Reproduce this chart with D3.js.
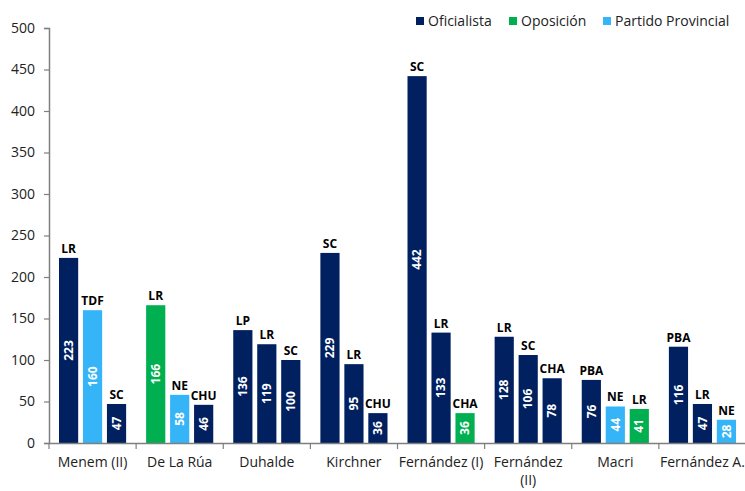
<!DOCTYPE html>
<html>
<head>
<meta charset="utf-8">
<script src="https://cdn.jsdelivr.net/npm/d3@7"></script>
<style>
  body { margin: 0; background: #fff; }
  svg { font-family: "Open Sans", "Noto Sans", sans-serif; }
</style>
</head>
<body>
<svg id="chart" width="745" height="491"></svg>
<script>
// presidencies along the x axis
var categories = ["Menem (II)", "De La Rúa", "Duhalde", "Kirchner", "Fernández (I)", "Fernández (II)", "Macri", "Fernández A."];
// province shown above each bar
var barLabels = [
  ["LR", "TDF", "SC"], ["LR", "NE", "CHU"], ["LP", "LR", "SC"], ["SC", "LR", "CHU"],
  ["SC", "LR", "CHA"], ["LR", "SC", "CHA"], ["PBA", "NE", "LR"], ["PBA", "LR", "NE"]
];
var barValues = [
  [223, 160, 47], [166, 58, 46], [136, 119, 100], [229, 95, 36],
  [442, 133, 36], [128, 106, 78], [76, 44, 41], [116, 47, 28]
];
// party type of each bar
var barParty = [
  ["Oficialista", "Partido Provincial", "Oficialista"],
  ["Oposición", "Partido Provincial", "Oficialista"],
  ["Oficialista", "Oficialista", "Oficialista"],
  ["Oficialista", "Oficialista", "Oficialista"],
  ["Oficialista", "Oficialista", "Oposición"],
  ["Oficialista", "Oficialista", "Oficialista"],
  ["Oficialista", "Partido Provincial", "Oposición"],
  ["Oficialista", "Oficialista", "Partido Provincial"]
];
var parties = ["Oficialista", "Oposición", "Partido Provincial"];
var yTicks = [0, 50, 100, 150, 200, 250, 300, 350, 400, 450, 500];

var svg = d3.select("#chart");
var plotLeft = 49, plotRight = 746, plotTop = 28, plotBottom = 443;

var x0 = d3.scaleBand().domain(categories).range([plotLeft, plotRight]).paddingInner(0).paddingOuter(0);
var x1 = d3.scaleBand().domain([0, 1, 2]).range([10, x0.bandwidth() - 10]).paddingInner(0.2);
var y = d3.scaleLinear().domain([0, 500]).range([plotBottom, plotTop]);
var color = d3.scaleOrdinal().domain(parties).range(["#002060", "#00B050", "#35B5F7"]);

var rows = [];
categories.forEach(function (c, i) {
  barValues[i].forEach(function (v, j) {
    rows.push({ cat: c, idx: j, value: v, label: barLabels[i][j], party: barParty[i][j] });
  });
});

var bars = svg.append("g").selectAll("g").data(rows).enter().append("g")
  .attr("transform", function (d) { return "translate(" + (x0(d.cat) + x1(d.idx)) + ",0)"; });

bars.append("rect")
  .attr("y", function (d) { return y(d.value); })
  .attr("width", x1.bandwidth())
  .attr("height", function (d) { return y(0) - y(d.value); })
  .attr("fill", function (d) { return color(d.party); });

bars.append("text")
  .attr("x", x1.bandwidth() / 2)
  .attr("y", function (d) { return y(d.value) - 5; })
  .attr("text-anchor", "middle")
  .attr("font-size", 12)
  .attr("font-weight", "bold")
  .attr("fill", "#000")
  .text(function (d) { return d.label; });

bars.append("text")
  .attr("transform", function (d) {
    return "translate(" + (x1.bandwidth() / 2) + "," + ((y(d.value) + y(0)) / 2) + ") rotate(-90)";
  })
  .attr("text-anchor", "middle")
  .attr("dy", "0.35em")
  .attr("font-size", 12)
  .attr("font-weight", "bold")
  .attr("fill", "#fff")
  .text(function (d) { return d.value; });

// y axis
var yAxis = svg.append("g")
  .attr("transform", "translate(" + plotLeft + ",0)")
  .call(d3.axisLeft(y).tickValues(yTicks).tickSize(5).tickPadding(9));
yAxis.select(".domain").attr("stroke", "#7f7f7f").attr("stroke-width", 1.5);
yAxis.selectAll(".tick line").attr("stroke", "#7f7f7f").attr("stroke-width", 1.2);
yAxis.selectAll(".tick text").attr("font-size", 14).attr("fill", "#222")
  .attr("font-family", "Open Sans, sans-serif");

// x axis
var xAxis = svg.append("g")
  .attr("transform", "translate(0," + plotBottom + ")")
  .call(d3.axisBottom(x0).tickSize(0).tickPadding(14));
xAxis.select(".domain").attr("stroke", "#7f7f7f").attr("stroke-width", 1.5);
xAxis.selectAll(".tick text").attr("font-size", 14).attr("fill", "#222")
  .attr("font-family", "Open Sans, sans-serif")
  .each(function (d) {
    if (d === "Fernández (II)") {
      var t = d3.select(this);
      t.text(null);
      t.append("tspan").attr("x", 0).text("Fernández");
      t.append("tspan").attr("x", 0).attr("dy", "1.3em").text("(II)");
    }
  });
svg.append("g").selectAll("line")
  .data(d3.range(categories.length + 1))
  .enter().append("line")
  .attr("x1", function (i) { return plotLeft + i * x0.step(); })
  .attr("x2", function (i) { return plotLeft + i * x0.step(); })
  .attr("y1", plotBottom)
  .attr("y2", plotBottom + 6)
  .attr("stroke", "#7f7f7f")
  .attr("stroke-width", 1.2);

// legend
var legendX = [416, 509, 603];
var legend = svg.append("g").selectAll("g").data(parties).enter().append("g")
  .attr("transform", function (d, i) { return "translate(" + legendX[i] + ",17)"; });
legend.append("rect").attr("width", 8).attr("height", 8).attr("fill", function (d) { return color(d); });
legend.append("text").attr("x", 12).attr("y", 4).attr("dy", "0.35em")
  .attr("font-size", 14).attr("fill", "#222").text(function (d) { return d; });
</script>
</body>
</html>
